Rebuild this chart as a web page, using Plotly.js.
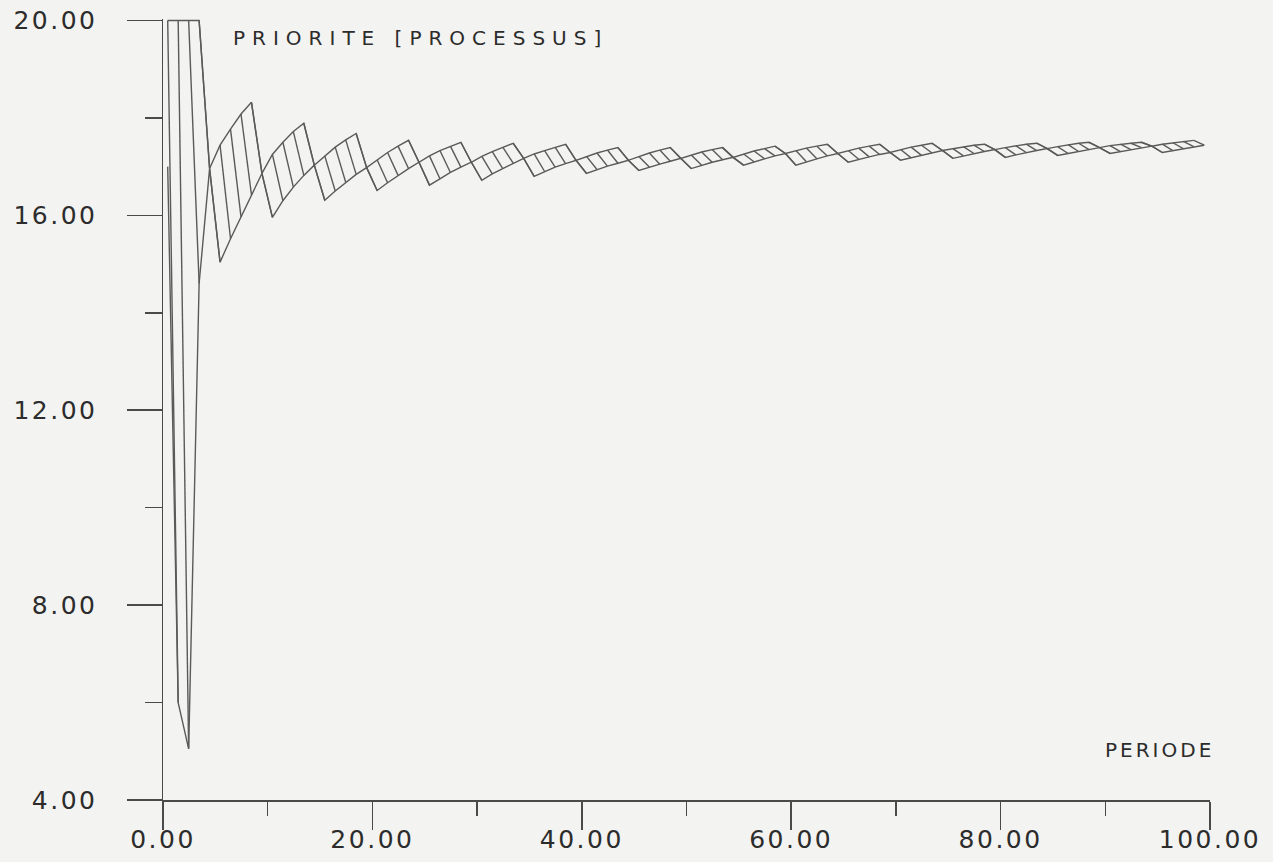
<!DOCTYPE html>
<html>
<head>
<meta charset="utf-8">
<script src="https://cdn.plot.ly/plotly-3.0.1.min.js"></script>
<style>
  html, body { margin: 0; padding: 0; background: #f3f3f1; }
  #chart { width: 1273px; height: 862px; }
  .gtitle { letter-spacing: 7px; }
  .annotation-text { letter-spacing: 3px; }
  .xtick text, .ytick text { letter-spacing: 2.5px; }
</style>
</head>
<body>
<div id="chart"></div>
<script>
// Période (index) de chaque pas
const periode = [
  0,1,2,3,4,5,6,7,8,9,10,11,12,13,14,15,16,17,18,19,
  20,21,22,23,24,25,26,27,28,29,30,31,32,33,34,35,36,37,38,39,
  40,41,42,43,44,45,46,47,48,49,50,51,52,53,54,55,56,57,58,59,
  60,61,62,63,64,65,66,67,68,69,70,71,72,73,74,75,76,77,78,79,
  80,81,82,83,84,85,86,87,88,89,90,91,92,93,94,95,96,97,98
];
// Priorité en début de période (enveloppe haute)
const prioriteDebut = [
  20, 20, 20, 20,
  16.96, 17.44, 17.77, 18.08, 18.32,
  16.86, 17.25, 17.50, 17.72, 17.89,
  17.03, 17.22, 17.40, 17.55, 17.68,
  16.98, 17.14, 17.29, 17.42, 17.54,
  17.09, 17.22, 17.33, 17.42, 17.50,
  17.09, 17.21, 17.31, 17.40, 17.48,
  17.17, 17.26, 17.33, 17.40, 17.46,
  17.13, 17.21, 17.28, 17.34, 17.39,
  17.13, 17.21, 17.28, 17.34, 17.39,
  17.17, 17.24, 17.30, 17.35, 17.39,
  17.19, 17.26, 17.32, 17.37, 17.42,
  17.27, 17.33, 17.38, 17.42, 17.46,
  17.27, 17.33, 17.38, 17.42, 17.46,
  17.29, 17.35, 17.40, 17.44, 17.48,
  17.33, 17.37, 17.41, 17.44, 17.46,
  17.35, 17.39, 17.43, 17.46, 17.48,
  17.37, 17.41, 17.45, 17.48, 17.50,
  17.39, 17.43, 17.46, 17.48, 17.50,
  17.42, 17.46, 17.49, 17.52, 17.54
];
// Priorité en fin de période (enveloppe basse)
const prioriteFin = [
  6.0, 5.05, 14.6, 16.96,
  15.04, 15.52, 15.97, 16.42, 16.86,
  15.96, 16.30, 16.58, 16.82, 17.03,
  16.31, 16.50, 16.68, 16.84, 16.98,
  16.51, 16.67, 16.82, 16.96, 17.09,
  16.62, 16.75, 16.88, 16.99, 17.09,
  16.72, 16.85, 16.96, 17.07, 17.17,
  16.80, 16.90, 16.99, 17.06, 17.13,
  16.86, 16.94, 17.01, 17.07, 17.13,
  16.92, 16.99, 17.05, 17.11, 17.17,
  16.96, 17.03, 17.09, 17.14, 17.19,
  17.03, 17.10, 17.16, 17.22, 17.27,
  17.03, 17.10, 17.16, 17.22, 17.27,
  17.09, 17.15, 17.20, 17.25, 17.29,
  17.13, 17.18, 17.23, 17.28, 17.33,
  17.17, 17.22, 17.27, 17.31, 17.35,
  17.19, 17.24, 17.29, 17.33, 17.37,
  17.23, 17.27, 17.31, 17.35, 17.39,
  17.27, 17.31, 17.35, 17.39, 17.42,
  17.29, 17.33, 17.37, 17.41, 17.44
];
const prioriteInitiale = 17.0;

const yTickVals = [4, 8, 12, 16, 20];
const xTickVals = [0, 20, 40, 60, 80, 100];
const titreGraphe = "PRIORITE [PROCESSUS]";
const titreAxeX = "PERIODE";

// ---- construction des tracés ----
const DEC = 0.45;        // décalage de départ de chaque période
const LINE = { color: '#5a5a5a', width: 1.4 };

const hautX = periode.map(t => t + DEC);
const basX = [DEC].concat(periode.map(t => t + DEC + 1));
const basY = [prioriteInitiale].concat(prioriteFin);

const hX = [], hY = [];
periode.forEach((t, i) => {
  hX.push(t + DEC, t + DEC + 1, null);
  hY.push(prioriteDebut[i], prioriteFin[i], null);
});

const traces = [
  { x: hautX, y: prioriteDebut, mode: 'lines', line: LINE, hoverinfo: 'skip' },
  { x: basX, y: basY, mode: 'lines', line: LINE, hoverinfo: 'skip' },
  { x: hX, y: hY, mode: 'lines', line: LINE, hoverinfo: 'skip', connectgaps: false }
];

const FONT = 'DejaVu Sans, Arial, sans-serif';
const AXCOL = '#4a4a4a';
const TXT = '#2c2c2c';

const layout = {
  width: 1273, height: 862,
  paper_bgcolor: '#f3f3f1', plot_bgcolor: '#f3f3f1',
  showlegend: false,
  margin: { l: 163, r: 63, t: 19, b: 62 },
  font: { family: FONT, color: TXT },
  title: {
    text: titreGraphe,
    font: { family: FONT, size: 20, color: TXT },
    x: 233 / 1273, xanchor: 'left', xref: 'container',
    y: 1 - 38 / 862, yanchor: 'middle', yref: 'container'
  },
  xaxis: {
    range: [0, 100], tickvals: xTickVals, tickformat: '.2f',
    showgrid: false, zeroline: false,
    showline: true, linecolor: AXCOL, linewidth: 1.5,
    ticks: 'outside', ticklen: 28, tickwidth: 1.5, tickcolor: AXCOL,
    tickfont: { family: FONT, size: 25, color: TXT },
    ticklabelstandoff: -12,
    minor: { dtick: 10, ticks: 'outside', ticklen: 14, tickwidth: 1.5, tickcolor: AXCOL, showgrid: false },
    fixedrange: true
  },
  yaxis: {
    range: [4, 20.03], tickvals: yTickVals, tickformat: '.2f',
    showgrid: false, zeroline: false,
    showline: true, linecolor: AXCOL, linewidth: 1.5,
    ticks: 'outside', ticklen: 35, tickwidth: 1.5, tickcolor: AXCOL,
    tickfont: { family: FONT, size: 25, color: TXT },
    ticklabelstandoff: 24,
    minor: { dtick: 2, ticks: 'outside', ticklen: 17, tickwidth: 1.5, tickcolor: AXCOL, showgrid: false },
    fixedrange: true
  },
  annotations: [{
    text: titreAxeX, xref: 'paper', yref: 'paper',
    x: 1.006, xanchor: 'right', y: (800 - 750) / 781, yanchor: 'middle',
    showarrow: false, font: { family: FONT, size: 20, color: TXT }
  }]
};

Plotly.newPlot('chart', traces, layout, { staticPlot: true, displayModeBar: false });
</script>
</body>
</html>
